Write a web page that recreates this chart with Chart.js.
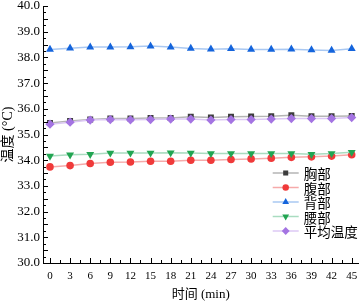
<!DOCTYPE html>
<html>
<head>
<meta charset="utf-8">
<script src="https://cdn.jsdelivr.net/npm/chart.js@4"></script>
<style>
  html, body { margin: 0; padding: 0; background: #fff; }
  #wrap { width: 363px; height: 302px; }
</style>
</head>
<body>
<div id="wrap"><canvas id="chart" width="363" height="302"></canvas></div>
<script>
// time axis (min)
const times = [0, 3, 6, 9, 12, 15, 18, 21, 24, 27, 30, 33, 36, 39, 42, 45];

// temperatures (°C)
const chest   = [35.45, 35.53, 35.58, 35.62, 35.62, 35.64, 35.64, 35.69, 35.66, 35.69, 35.70, 35.71, 35.75, 35.71, 35.71, 35.72];
const abdomen = [33.74, 33.79, 33.87, 33.92, 33.93, 33.96, 33.96, 34.00, 34.00, 34.03, 34.05, 34.08, 34.11, 34.13, 34.16, 34.21];
const back    = [38.31, 38.36, 38.40, 38.40, 38.41, 38.44, 38.40, 38.35, 38.32, 38.34, 38.31, 38.31, 38.32, 38.29, 38.27, 38.34];
const waist   = [34.16, 34.21, 34.23, 34.28, 34.28, 34.28, 34.29, 34.28, 34.26, 34.26, 34.26, 34.26, 34.26, 34.23, 34.26, 34.31];
const average = [35.40, 35.48, 35.56, 35.58, 35.57, 35.58, 35.60, 35.60, 35.56, 35.58, 35.58, 35.60, 35.62, 35.62, 35.62, 35.66];

const seriesNames = ['胸部', '腹部', '背部', '腰部', '平均温度'];

const serif = "'Liberation Serif', 'Noto Sans CJK SC', serif";
const cjk = "'Noto Sans CJK SC', 'Liberation Serif', sans-serif";

function pts(arr) {
    return times.map((t, i) => ({ x: t, y: arr[i] }));
}

function makeSet(name, arr, line, fill, style, rot, radius, order) {
    return {
        label: name,
        data: pts(arr),
        borderColor: line,
        borderWidth: 1.5,
        backgroundColor: fill,
        pointBackgroundColor: fill,
        pointBorderColor: fill,
        pointBorderWidth: 0,
        pointStyle: style,
        pointRotation: rot,
        pointRadius: radius,
        tension: 0,
        order: order
    };
}

const datasets = [
    makeSet(seriesNames[0], chest,   '#b4b4b4', '#3c3c3c', 'rect', 0, 4.2, 5),
    makeSet(seriesNames[1], abdomen, '#f6aaaa', '#f03a3a', 'circle', 0, 3.8, 4),
    makeSet(seriesNames[2], back,    '#a9c8f2', '#1464dc', 'triangle', 0, 4.6, 3),
    makeSet(seriesNames[3], waist,   '#a9dcc0', '#22a552', 'triangle', 180, 4.6, 2),
    makeSet(seriesNames[4], average, '#dcc8f4', '#a474e2', 'rectRot', 0, 4.6, 1)
];

// inward major/minor ticks plus the legend inside the plot
const decor = {
    id: 'decor',
    afterDraw(chart) {
        const { ctx, chartArea: a, scales: { x, y } } = chart;
        ctx.save();
        ctx.strokeStyle = '#000';
        ctx.lineWidth = 1;
        ctx.beginPath();
        times.forEach(t => {
            const px = Math.round(x.getPixelForValue(t)) + 0.5;
            ctx.moveTo(px, a.bottom); ctx.lineTo(px, a.bottom - 5);
            const mx = Math.round(x.getPixelForValue(t + 1.5)) + 0.5;
            if (t + 1.5 < x.max) { ctx.moveTo(mx, a.bottom); ctx.lineTo(mx, a.bottom - 3); }
        });
        for (let v = y.min; v <= y.max + 1e-6; v += 0.25) {
            const py = Math.round(y.getPixelForValue(v)) + 0.5;
            const major = Math.abs(v * 2 - Math.round(v * 2)) < 1e-6;
            ctx.moveTo(a.left, py); ctx.lineTo(a.left + (major ? 5 : 3), py);
        }
        ctx.stroke();

        // legend
        const lx = x.getPixelForValue(45) - 79, ly = a.top + 167, gap = 14.5;
        ctx.font = '13.5px ' + cjk;
        ctx.textBaseline = 'middle';
        ctx.fillStyle = '#000';
        datasets.forEach((ds, i) => {
            const yy = ly + i * gap;
            ctx.strokeStyle = ds.borderColor;
            ctx.lineWidth = 1.5;
            ctx.beginPath();
            ctx.moveTo(lx, yy); ctx.lineTo(lx + 26, yy);
            ctx.stroke();
            ctx.fillStyle = ds.pointBackgroundColor;
            ctx.strokeStyle = ds.pointBorderColor;
            Chart.helpers.drawPoint(ctx, {
                pointStyle: ds.pointStyle, rotation: ds.pointRotation,
                radius: ds.pointRadius * 0.85, borderWidth: 0
            }, lx + 13, yy);
            ctx.fillStyle = '#000';
            ctx.fillText(ds.label, lx + 31, yy + 1);
        });
        ctx.restore();
    }
};

new Chart(document.getElementById('chart'), {
    type: 'line',
    data: { datasets: datasets },
    plugins: [decor],
    options: {
        responsive: false,
        animation: false,
        layout: { padding: { left: 0, top: 0, bottom: 0, right: 3 } },
        plugins: { legend: { display: false }, tooltip: { enabled: false } },
        scales: {
            x: {
                type: 'linear',
                min: -1.04,
                max: 46,
                afterBuildTicks: s => { s.ticks = times.map(v => ({ value: v })); },
                afterFit: s => { s.height = 39; s.paddingRight = 0; s.paddingLeft = 0; },
                grid: { display: false, drawTicks: false },
                border: { display: true, color: '#000', width: 1 },
                ticks: { color: '#000', font: { family: serif, size: 11 }, padding: 7, maxRotation: 0, autoSkip: false },
                title: { display: true, text: '时间 (min)', color: '#000', font: { family: serif, size: 13 }, padding: { top: 2, bottom: 0 } }
            },
            y: {
                min: 30,
                max: 40,
                afterFit: s => { s.width = 43; s.paddingTop = 6; s.paddingBottom = 0; },
                grid: { display: false, drawTicks: false },
                border: { display: true, color: '#000', width: 1 },
                ticks: { stepSize: 0.5, color: '#000', font: { family: serif, size: 13 }, padding: 3,
                    callback: v => Number(v).toFixed(1) },
                title: { display: true, text: '温度 (°C)', color: '#000', font: { family: serif, size: 14 }, padding: { top: 0, bottom: 0 } }
            }
        }
    }
});
</script>
</body>
</html>
